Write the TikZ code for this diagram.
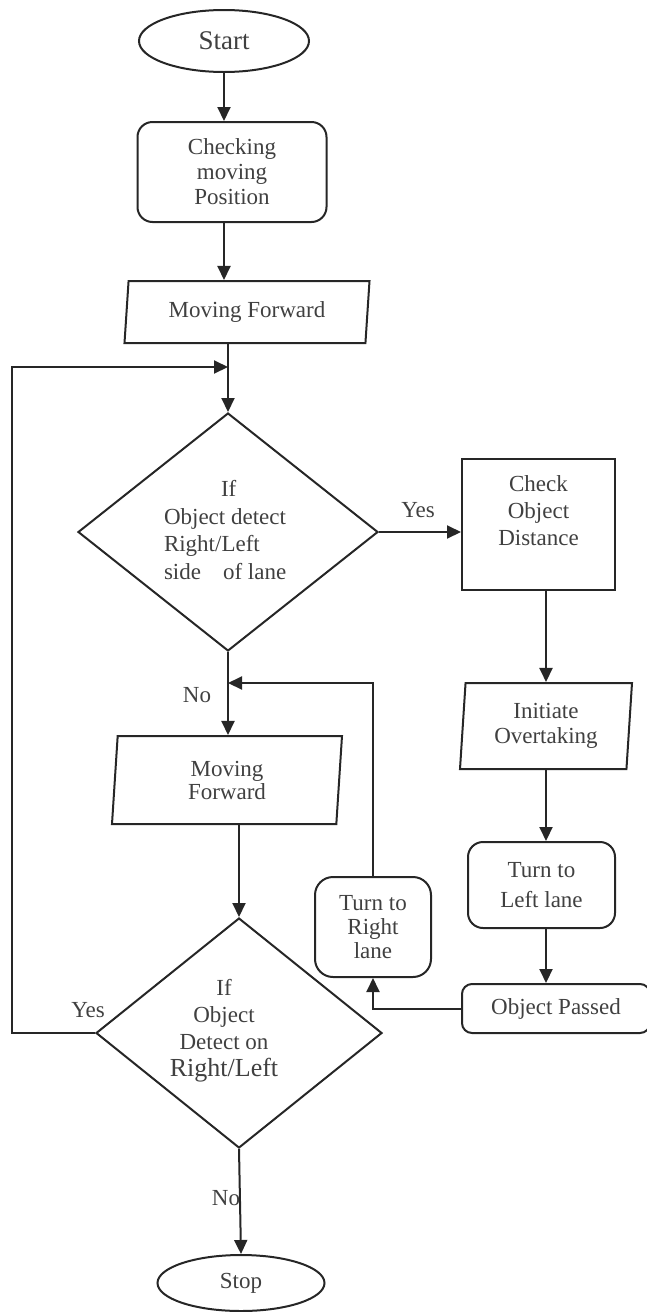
\documentclass[tikz,border=0pt]{standalone}
\usepackage{fontspec}
\setmainfont{Liberation Serif}
\usetikzlibrary{shapes.geometric,arrows.meta}
\begin{document}
\begin{tikzpicture}[x=1pt,y=-1pt,line width=2pt,color=black!85,
  every node/.style={font=\fontsize{23}{27}\selectfont,text=black!75,inner sep=0pt,align=center},
  term/.style={draw,ellipse},
  rbox/.style={draw,rounded corners=15pt},
  sbox/.style={draw},
  iobox/.style={draw,trapezium,trapezium stretches body},
  dmd/.style={draw,diamond},
  arr/.style={-{Triangle[length=14pt,width=13pt]}}]
\useasboundingbox (0,0) rectangle (646,1312);
% main column
\node[term,minimum width=170pt,minimum height=62pt,font=\fontsize{27}{30}\selectfont] (start) at (224,41) {Start};
\node[rbox,minimum width=189pt,minimum height=100pt,font=\fontsize{23}{25}\selectfont] (chk) at (232,172) {Checking\\moving\\Position};
\node[iobox,trapezium left angle=79,trapezium right angle=101,minimum width=245pt,minimum height=62pt] (mf1) at (247,312) {Moving Forward};
\node[dmd,minimum width=300pt,minimum height=238pt] (d1) at (228,532) {};
\node[anchor=west,align=left,font=\fontsize{23}{27.5}\selectfont] (d1t) at (163,530) {\hspace*{57pt}If\\Object detect\\Right/Left\\side\hspace{22pt}of lane};
\node[iobox,trapezium left angle=81.6,trapezium right angle=98.4,minimum width=230pt,minimum height=88pt,font=\fontsize{23}{23}\selectfont] (mf2) at (227,780) {Moving\\Forward};
\node[dmd,minimum width=286pt,minimum height=230pt] (d2) at (239,1033) {};
\node (d2t) at (224,1031) {If\\Object\\Detect on\\{\fontsize{26}{27}\selectfont Right/Left}};
\node[term,minimum width=167pt,minimum height=56pt] (stop) at (241,1283) {Stop};
% right column
\node[sbox,minimum width=153pt,minimum height=131pt] (dist) at (538.5,524.5) {Check\\Object\\Distance\\\mbox{}};
\node[iobox,trapezium left angle=83,trapezium right angle=97,minimum width=172pt,minimum height=86pt,font=\fontsize{23}{25}\selectfont] (init) at (546,726) {Initiate\\Overtaking};
\node[rbox,minimum width=147pt,minimum height=86pt,font=\fontsize{23}{30}\selectfont] (tl) at (541.5,885) {Turn to\\Left lane};
\node[rbox,rounded corners=10pt,minimum width=188pt,minimum height=49pt] (op) at (556,1008.5) {Object Passed};
\node[rbox,rounded corners=18pt,minimum width=116pt,minimum height=100pt,font=\fontsize{23}{24}\selectfont] (tr) at (373,927) {Turn to\\Right\\lane};
% labels
\node (y1) at (418,510) {Yes};
\node (n1) at (197,695) {No};
\node (y2) at (88,1010) {Yes};
\node (n2) at (226,1198) {No};
\coordinate (lp) at (12,367);
\coordinate (jn) at (228,683);
% connectors
\draw[arr] (start.south) -- (start.south |- chk.north);
\draw[arr] (start.south |- chk.south) -- (start.south |- mf1.north);
\draw[arr] (d1.north |- mf1.south) -- (d1.north);
\draw[arr] (d2.west) -| (lp) -- (lp -| d1.north);
\draw[arr] (d1.east) -- (d1.east -| dist.west);
\draw[arr] (init.north |- dist.south) -- (init.north);
\draw[arr] (init.south) -- (init.south |- tl.north);
\draw[arr] (init.south |- tl.south) -- (init.south |- op.north);
\draw[arr] (op.west) -| (tr.south);
\draw[arr] (tr.north) |- (jn);
\draw[arr] (d1.south) -- (d1.south |- mf2.north);
\draw[arr] (mf2.south -| d2.north) -- (d2.north);
\draw[arr] (d2.south) -- (stop.north);
\end{tikzpicture}
\end{document}
